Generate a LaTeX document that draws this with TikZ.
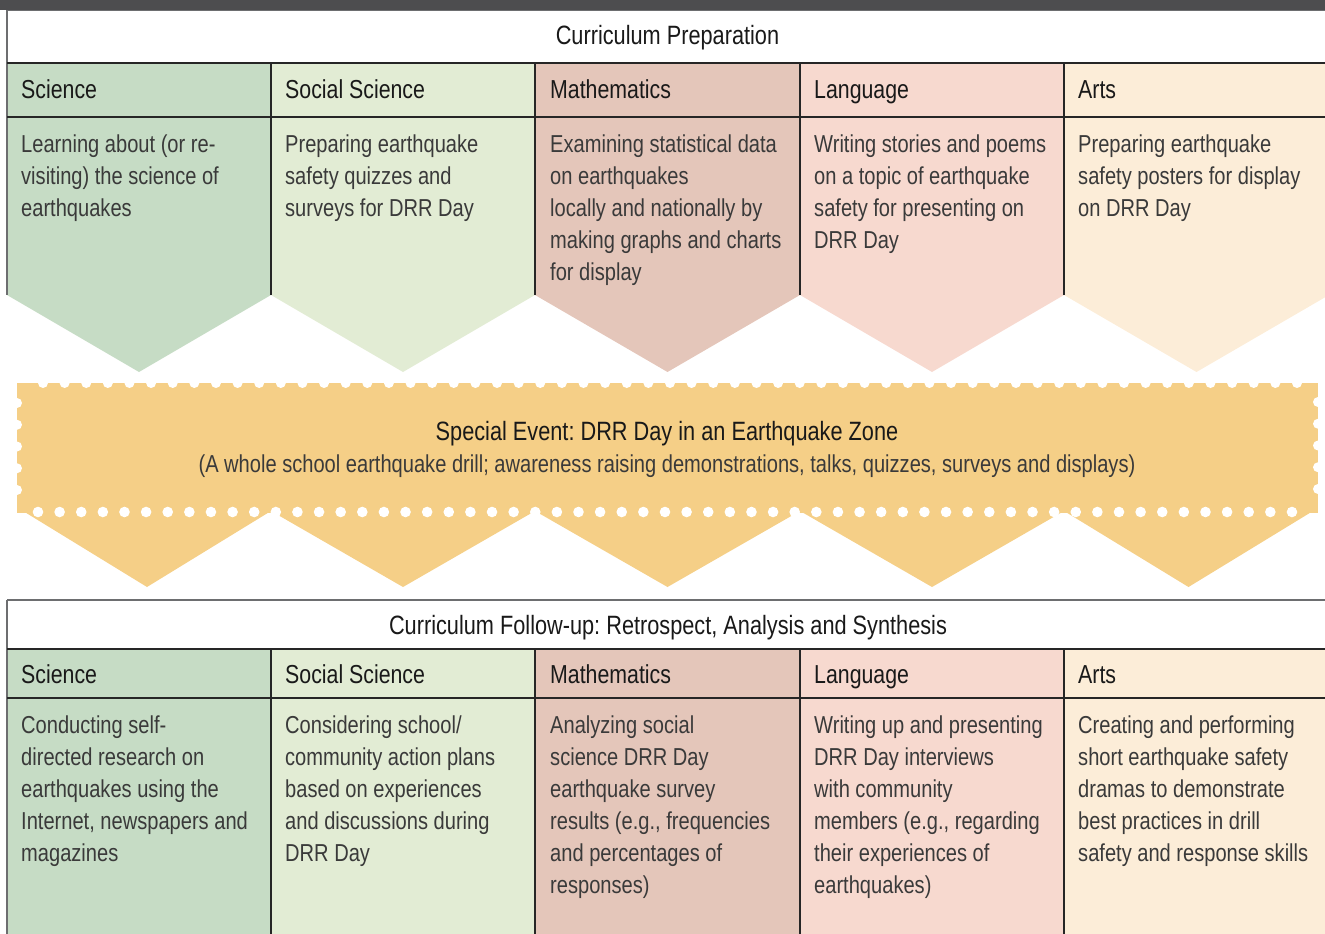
\documentclass[tikz,border=0pt]{standalone}
\usepackage{fontspec}
\setmainfont[FakeStretch=0.82]{Liberation Sans}
\definecolor{darkbar}{HTML}{4D4D4F}
\definecolor{rulegray}{HTML}{6D6E70}
\definecolor{sci}{HTML}{C6DCC5}
\definecolor{soc}{HTML}{E2ECD4}
\definecolor{math}{HTML}{E4C6BA}
\definecolor{lang}{HTML}{F7D9CF}
\definecolor{arts}{HTML}{FCEDD8}
\definecolor{stamp}{HTML}{F5CF87}
\definecolor{bodygray}{HTML}{3A3A3A}
\tikzset{
  bodytxt/.style={anchor=north west, inner sep=0pt, align=left, font=\fontsize{24.5}{32}\selectfont, text=bodygray},
  headtxt/.style={anchor=base west, inner sep=0pt, font=\fontsize{26}{31}\selectfont, text=black!90},
  titletxt/.style={anchor=base, inner sep=0pt, font=\fontsize{26.5}{31}\selectfont, text=black!90},
  subtxt/.style={anchor=base, inner sep=0pt, font=\fontsize{24.5}{31}\selectfont, text=bodygray},
  blackrule/.style={line width=1.2pt, black!85},
  greyrule/.style={line width=1.2pt, rulegray},
  hole/.style={fill=white},
}
\frenchspacing
\begin{document}
\frenchspacing
\begin{tikzpicture}[x=1pt,y=-1pt]
\useasboundingbox (0,0) rectangle (1325,934);
% top bar
\fill[darkbar] (0,-1) rectangle (1325,10);
% ---------- top section fills
\foreach \xa/\xb/\col in {7/271/sci,271/535/soc,535/800/math,800/1064/lang,1064/1329/arts}{
  \fill[\col] (\xa,63) -- (\xb,63) -- (\xb,295) -- ({(\xa+\xb)/2},372) -- (\xa,295) -- cycle;
}
\draw[greyrule] (7,10.6) -- (1329,10.6);
\draw[greyrule] (7,10) -- (7,295);
\draw[blackrule] (7,63) -- (1329,63);
\draw[blackrule] (7,117) -- (1329,117);
\foreach \xx in {271,535,800,1064}{ \draw[blackrule] (\xx,63) -- (\xx,295); }
% top texts
\node[titletxt] (ttop) at (667.5,44.5) {Curriculum Preparation};
\node[headtxt] (h1t) at (21,98) {Science};
\node[headtxt] (h2t) at (285,98) {Social Science};
\node[headtxt] (h3t) at (550,98) {Mathematics};
\node[headtxt] (h4t) at (814,98) {Language};
\node[headtxt] (h5t) at (1078,98) {Arts};
\node[bodytxt] (b1t) at (21,130) {\strut Learning about (or re-\\visiting) the science of\\earthquakes};
\node[bodytxt] (b2t) at (285,130) {\strut Preparing earthquake\\safety quizzes and\\surveys for DRR Day};
\node[bodytxt] (b3t) at (550,130) {\strut Examining statistical data\\on earthquakes\\locally and nationally by\\making graphs and charts\\for display};
\node[bodytxt] (b4t) at (814,130) {\strut Writing stories and poems\\on a topic of earthquake\\safety for presenting on\\DRR Day};
\node[bodytxt] (b5t) at (1078,130) {\strut Preparing earthquake\\safety posters for display\\on DRR Day};
% ---------- special event stamp
\fill[stamp] (17,383) rectangle (1318,512.5);
\foreach \xa/\xb in {23/271,271/535,535/800,800/1064,1064/1313}{
  \fill[stamp] (\xa,511) -- (\xb,511) -- ({(\xa+\xb)/2},587) -- cycle;
}
\foreach \k in {0,...,58}{
  \fill[hole] ({43+21.62*\k},383) circle[radius=5pt];
  \fill[hole] ({38+21.62*\k},512) circle[radius=5.3pt];
}
\foreach \k in {0,...,4}{
  \fill[hole] (17,{403+21.75*\k}) circle[radius=5pt];
  \fill[hole] (1318,{402+21.75*\k}) circle[radius=5pt];
}
\node[titletxt] (ev1) at (667,440.5) {Special Event: DRR Day in an Earthquake Zone};
\node[subtxt] (ev2) at (667,472) {(A whole school earthquake drill; awareness raising demonstrations, talks, quizzes, surveys and displays)};
% ---------- bottom section
\foreach \xa/\xb/\col in {7/271/sci,271/535/soc,535/800/math,800/1064/lang,1064/1329/arts}{
  \fill[\col] (\xa,649) rectangle (\xb,940);
}
\draw[greyrule] (7,600) -- (1329,600);
\draw[greyrule] (7,600) -- (7,940);
\draw[blackrule] (7,649) -- (1329,649);
\draw[blackrule] (7,698) -- (1329,698);
\foreach \xx in {271,535,800,1064}{ \draw[blackrule] (\xx,649) -- (\xx,940); }
\node[titletxt] (tbot) at (668,634.5) {Curriculum Follow-up: Retrospect, Analysis and Synthesis};
\node[headtxt] (h1b) at (21,683) {Science};
\node[headtxt] (h2b) at (285,683) {Social Science};
\node[headtxt] (h3b) at (550,683) {Mathematics};
\node[headtxt] (h4b) at (814,683) {Language};
\node[headtxt] (h5b) at (1078,683) {Arts};
\node[bodytxt] (b1b) at (21,710.6) {\strut Conducting self-\\directed research on\\earthquakes using the\\Internet, newspapers and\\magazines};
\node[bodytxt] (b2b) at (285,710.6) {\strut Considering school/\\community action plans\\based on experiences\\and discussions during\\DRR Day};
\node[bodytxt] (b3b) at (550,710.6) {\strut Analyzing social\\science DRR Day\\earthquake survey\\results (e.g., frequencies\\and percentages of\\responses)};
\node[bodytxt] (b4b) at (814,710.6) {\strut Writing up and presenting\\DRR Day interviews\\with community\\members (e.g., regarding\\their experiences of\\earthquakes)};
\node[bodytxt] (b5b) at (1078,710.6) {\strut Creating and performing\\short earthquake safety\\dramas to demonstrate\\best practices in drill\\safety and response skills};
\end{tikzpicture}
\end{document}
